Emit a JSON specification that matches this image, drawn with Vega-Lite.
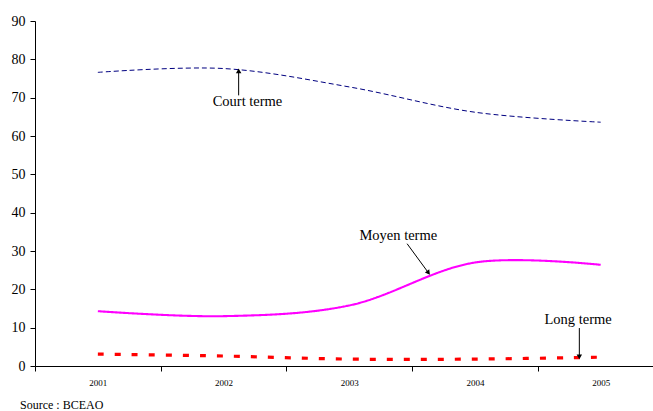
{
  "$schema": "https://vega.github.io/schema/vega-lite/v6.json",
  "autosize": {"type": "none"},
  "width": 618,
  "height": 345,
  "padding": {"left": 35, "top": 21, "right": 0, "bottom": 45},
  "background": "white",
  "config": {
    "view": {"stroke": null},
    "axis": {"grid": false, "domainColor": "black", "tickColor": "black", "labelColor": "black"},
    "axisX": {"tickSize": 5, "labelFont": "Liberation Serif", "labelFontSize": 9, "labelPadding": 7, "labelFlush": false, "labelOverlap": false, "title": null},
    "axisY": {"tickSize": 5, "labelFont": "Liberation Serif", "labelFontSize": 14, "labelPadding": 5, "labelFlush": false, "labelOverlap": false, "title": null}
  },
  "title": {"text": "Source : BCEAO", "orient": "bottom", "anchor": "start", "frame": "group", "dx": -15, "offset": 13, "fontSize": 12, "fontWeight": "normal", "font": "Liberation Serif", "color": "black"},
  "datasets": {
    "series": [
      {"annee": 2001, "valeur": 76.6, "serie": "Court terme"},
      {"annee": 2002, "valeur": 77.6, "serie": "Court terme"},
      {"annee": 2003, "valeur": 72.8, "serie": "Court terme"},
      {"annee": 2004, "valeur": 66.2, "serie": "Court terme"},
      {"annee": 2005, "valeur": 63.6, "serie": "Court terme"},
      {"annee": 2001, "valeur": 14.3, "serie": "Moyen terme"},
      {"annee": 2002, "valeur": 13.0, "serie": "Moyen terme"},
      {"annee": 2003, "valeur": 15.8, "serie": "Moyen terme"},
      {"annee": 2004, "valeur": 27.0, "serie": "Moyen terme"},
      {"annee": 2005, "valeur": 26.4, "serie": "Moyen terme"},
      {"annee": 2001, "valeur": 3.1, "serie": "Long terme"},
      {"annee": 2002, "valeur": 2.6, "serie": "Long terme"},
      {"annee": 2003, "valeur": 1.8, "serie": "Long terme"},
      {"annee": 2004, "valeur": 1.8, "serie": "Long terme"},
      {"annee": 2005, "valeur": 2.3, "serie": "Long terme"}
    ],
    "notes": [
      {"serie": "Court terme", "tx": 2002.19, "ty": 68.8, "x1": 2002.12, "y1": 70.6, "x2": 2002.12, "y2": 77.0},
      {"serie": "Moyen terme", "tx": 2003.39, "ty": 33.9, "x1": 2003.46, "y1": 31.9, "x2": 2003.63, "y2": 24.3},
      {"serie": "Long terme", "tx": 2004.82, "ty": 12.0, "x1": 2004.83, "y1": 9.9, "x2": 2004.83, "y2": 2.4}
    ]
  },
  "layer": [
    {
      "data": {"name": "series"},
      "mark": {"type": "line", "interpolate": "catmull-rom"},
      "encoding": {
        "x": {
          "field": "annee", "type": "quantitative",
          "scale": {"domain": [2000.5, 2005.416], "nice": false, "zero": false},
          "axis": {
            "values": [2000.5, 2001, 2001.5, 2002, 2002.5, 2003, 2003.5, 2004, 2004.5, 2005],
            "labelExpr": "datum.value % 1 === 0 ? datum.value + '' : ''",
            "tickOpacity": {"condition": {"test": "datum.value % 1 === 0", "value": 0}, "value": 1}
          }
        },
        "y": {
          "field": "valeur", "type": "quantitative",
          "scale": {"domain": [0, 90], "nice": false},
          "axis": {"values": [0,10,20,30,40,50,60,70,80,90]}
        },
        "color": {"field": "serie", "type": "nominal", "legend": null,
          "scale": {"domain": ["Court terme", "Moyen terme", "Long terme"], "range": ["#000080", "#FF00FF", "#FF0000"]}},
        "strokeDash": {"field": "serie", "type": "nominal", "legend": null,
          "scale": {"domain": ["Court terme", "Moyen terme", "Long terme"], "range": [[5, 3], [1, 0], [6, 11]]}},
        "strokeWidth": {"field": "serie", "type": "nominal", "legend": null,
          "scale": {"domain": ["Court terme", "Moyen terme", "Long terme"], "range": [1, 3.2, 4]}}
      }
    },
    {
      "data": {"name": "notes"},
      "mark": {"type": "rule", "color": "black", "strokeWidth": 1},
      "encoding": {
        "x": {"field": "x1", "type": "quantitative", "axis": {"values": [2000.5, 2001, 2001.5, 2002, 2002.5, 2003, 2003.5, 2004, 2004.5, 2005], "labelExpr": "datum.value % 1 === 0 ? datum.value + '' : ''", "tickOpacity": {"condition": {"test": "datum.value % 1 === 0", "value": 0}, "value": 1}}},
        "y": {"field": "y1", "type": "quantitative", "axis": {"values": [0,10,20,30,40,50,60,70,80,90]}},
        "x2": {"field": "x2"},
        "y2": {"field": "y2"}
      }
    },
    {
      "data": {"name": "notes"},
      "mark": {"type": "text", "fontSize": 14.5, "font": "Liberation Serif", "color": "black", "align": "center", "baseline": "middle"},
      "encoding": {
        "x": {"field": "tx", "type": "quantitative", "axis": {"values": [2000.5, 2001, 2001.5, 2002, 2002.5, 2003, 2003.5, 2004, 2004.5, 2005], "labelExpr": "datum.value % 1 === 0 ? datum.value + '' : ''", "tickOpacity": {"condition": {"test": "datum.value % 1 === 0", "value": 0}, "value": 1}}},
        "y": {"field": "ty", "type": "quantitative", "axis": {"values": [0,10,20,30,40,50,60,70,80,90]}},
        "text": {"field": "serie"}
      }
    },
    {
      "data": {"name": "notes"},
      "transform": [{"filter": "datum.serie === 'Court terme'"}],
      "mark": {"type": "point", "shape": "triangle-up", "filled": true, "color": "black", "size": 30, "opacity": 1},
      "encoding": {
        "x": {"field": "x2", "type": "quantitative", "axis": {"values": [2000.5, 2001, 2001.5, 2002, 2002.5, 2003, 2003.5, 2004, 2004.5, 2005], "labelExpr": "datum.value % 1 === 0 ? datum.value + '' : ''", "tickOpacity": {"condition": {"test": "datum.value % 1 === 0", "value": 0}, "value": 1}}},
        "y": {"field": "y2", "type": "quantitative", "axis": {"values": [0,10,20,30,40,50,60,70,80,90]}}
      }
    },
    {
      "data": {"name": "notes"},
      "transform": [{"filter": "datum.serie === 'Moyen terme'"}],
      "mark": {"type": "point", "shape": "triangle-up", "angle": 143, "filled": true, "color": "black", "size": 30, "opacity": 1},
      "encoding": {
        "x": {"field": "x2", "type": "quantitative", "axis": {"values": [2000.5, 2001, 2001.5, 2002, 2002.5, 2003, 2003.5, 2004, 2004.5, 2005], "labelExpr": "datum.value % 1 === 0 ? datum.value + '' : ''", "tickOpacity": {"condition": {"test": "datum.value % 1 === 0", "value": 0}, "value": 1}}},
        "y": {"field": "y2", "type": "quantitative", "axis": {"values": [0,10,20,30,40,50,60,70,80,90]}}
      }
    },
    {
      "data": {"name": "notes"},
      "transform": [{"filter": "datum.serie === 'Long terme'"}],
      "mark": {"type": "point", "shape": "triangle-down", "filled": true, "color": "black", "size": 30, "opacity": 1},
      "encoding": {
        "x": {"field": "x2", "type": "quantitative", "axis": {"values": [2000.5, 2001, 2001.5, 2002, 2002.5, 2003, 2003.5, 2004, 2004.5, 2005], "labelExpr": "datum.value % 1 === 0 ? datum.value + '' : ''", "tickOpacity": {"condition": {"test": "datum.value % 1 === 0", "value": 0}, "value": 1}}},
        "y": {"field": "y2", "type": "quantitative", "axis": {"values": [0,10,20,30,40,50,60,70,80,90]}}
      }
    }
  ]
}
